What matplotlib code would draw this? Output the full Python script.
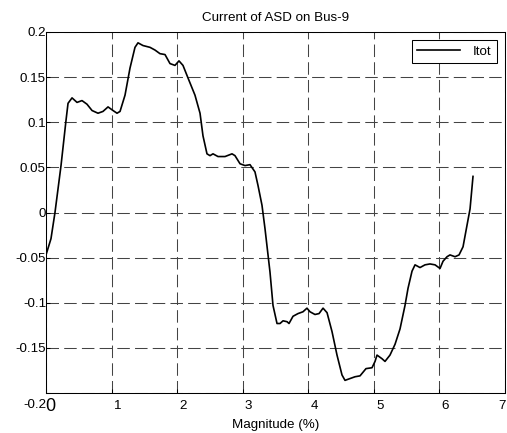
import matplotlib
matplotlib.use("Agg")
import matplotlib.pyplot as plt
from matplotlib.transforms import ScaledTranslation

plt.rcParams['font.family'] = ['Liberation Sans', 'DejaVu Sans']
plt.rcParams['font.size'] = 9.6

# Itot
magnitude = [0.0, 0.076, 0.137, 0.229, 0.305, 0.336, 0.397, 0.473, 0.549, 0.625,
             0.702, 0.793, 0.869, 0.946, 1.022, 1.083, 1.129, 1.205, 1.281, 1.357,
             1.403, 1.479, 1.586, 1.662, 1.738, 1.815, 1.891, 1.967, 2.028, 2.089,
             2.166, 2.272, 2.349, 2.394, 2.455, 2.501, 2.547, 2.623, 2.730, 2.837,
             2.882, 2.959, 3.035, 3.111, 3.187, 3.233, 3.294, 3.340, 3.416, 3.462,
             3.523, 3.569, 3.615, 3.676, 3.706, 3.767, 3.843, 3.919, 3.980, 4.026,
             4.102, 4.164, 4.225, 4.286, 4.362, 4.438, 4.514, 4.560, 4.636, 4.713,
             4.789, 4.880, 4.972, 5.018, 5.048, 5.124, 5.170, 5.246, 5.323, 5.399,
             5.475, 5.521, 5.582, 5.628, 5.704, 5.780, 5.856, 5.933, 6.009, 6.055,
             6.116, 6.161, 6.238, 6.299, 6.360, 6.421, 6.467, 6.512]
itot = [-0.047, -0.029, 0.000, 0.052, 0.102, 0.121, 0.127, 0.122, 0.124, 0.120,
        0.113, 0.110, 0.112, 0.117, 0.113, 0.110, 0.112, 0.130, 0.160, 0.183,
        0.188, 0.185, 0.183, 0.180, 0.176, 0.175, 0.165, 0.163, 0.168, 0.163,
        0.149, 0.130, 0.110, 0.085, 0.065, 0.063, 0.065, 0.062, 0.062, 0.065,
        0.063, 0.054, 0.052, 0.053, 0.045, 0.030, 0.008, -0.018, -0.066, -0.103,
        -0.123, -0.123, -0.120, -0.121, -0.123, -0.115, -0.112, -0.110, -0.106, -0.110,
        -0.113, -0.112, -0.106, -0.111, -0.132, -0.158, -0.180, -0.186, -0.184, -0.182,
        -0.181, -0.173, -0.172, -0.165, -0.158, -0.162, -0.165, -0.158, -0.146, -0.129,
        -0.103, -0.084, -0.065, -0.058, -0.061, -0.058, -0.057, -0.058, -0.062, -0.054,
        -0.049, -0.047, -0.049, -0.047, -0.038, -0.014, 0.004, 0.040]

xticks = [0, 1, 2, 3, 4, 5, 6, 7]
yticks = [-0.2, -0.15, -0.1, -0.05, 0, 0.05, 0.1, 0.15, 0.2]
ytick_labels = ['-0.2', '-0.15', '-0.1', '-0.05', '0', '0.05', '0.1', '0.15', '0.2']

fig = plt.figure(figsize=(5.07, 4.33), dpi=100)
ax = fig.add_axes([46/507, 40/433, 459/507, 361/433])

ax.plot(magnitude, itot, color='black', linewidth=1.2, label='Itot')

ax.set_xlim(0, 7)
ax.set_ylim(-0.2, 0.2)
ax.set_xticks(xticks)
ax.set_xticklabels([str(t) for t in xticks])
ax.set_yticks(yticks)
ax.set_yticklabels(ytick_labels)

ax.grid(True, color='#444444', linestyle=(0, (12, 5)), linewidth=0.75)
ax.set_axisbelow(True)
for s in ax.spines.values():
    s.set_linewidth(0.75)
ax.tick_params(direction='in', length=3, width=0.75)
ax.tick_params(axis='x', pad=5)
ax.tick_params(axis='y', pad=0)

# MATLAB export quirks: shifted x labels, big "0", dropped "-0.2"
shift = ScaledTranslation(6/100, 0, fig.dpi_scale_trans)
xl = ax.get_xticklabels()
for lbl in xl[:-1]:
    lbl.set_transform(lbl.get_transform() + shift)
xl[-1].set_transform(xl[-1].get_transform() + ScaledTranslation(-3/100, 0, fig.dpi_scale_trans))
xl[0].set_fontsize(13)
xl[0].set_transform(xl[0].get_transform() + ScaledTranslation(-2/100, 2/100, fig.dpi_scale_trans))
yl = ax.get_yticklabels()
yl[0].set_transform(yl[0].get_transform() + ScaledTranslation(0, -10/100, fig.dpi_scale_trans))

ax.set_title('Current of ASD on Bus-9', fontsize=9.6, pad=8)
ax.set_xlabel('Magnitude (%)', labelpad=3)

leg = ax.legend(loc='upper right', fancybox=False, edgecolor='black', framealpha=1,
                handlelength=3.2, handletextpad=1.0, borderaxespad=0.6,
                borderpad=0.4)
leg.get_frame().set_linewidth(0.75)

fig.savefig('out.png', dpi=100)
